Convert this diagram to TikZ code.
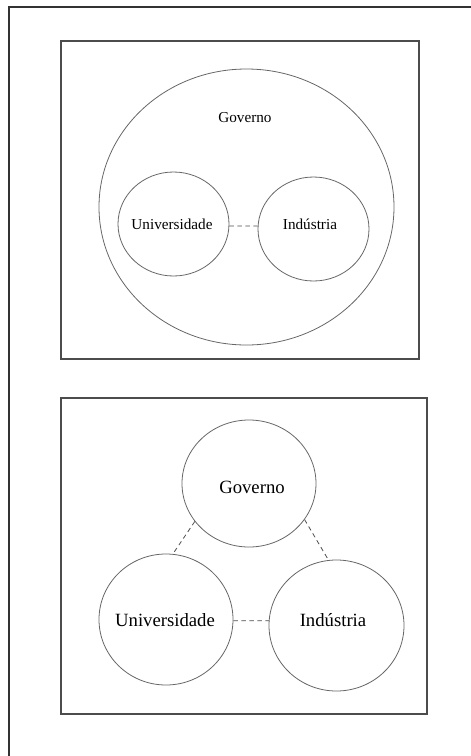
\documentclass[tikz,border=0pt]{standalone}
\usepackage{fontspec}
\setmainfont{Liberation Serif}
\usetikzlibrary{shapes.geometric}
\begin{document}
\begin{tikzpicture}[x=1pt,y=-1pt,
  frame/.style={draw=black!80,line width=1.6pt},
  panel/.style={draw=black!70,line width=1.2pt},
  circ/.style={ellipse,draw=black!60,line width=0.8pt,inner sep=0pt},
  smalltxt/.style={font=\fontsize{15.2}{18}\selectfont,inner sep=0pt},
  bigtxt/.style={font=\fontsize{18.7}{22}\selectfont,inner sep=0pt},
  link/.style={draw=black!70,line width=0.8pt,dash pattern=on 4.5pt off 3.5pt}]
\useasboundingbox (0,0) rectangle (471,756);
% outer frame (clipped by page)
\draw[frame] (9,770) -- (9,7) -- (480,7);
% upper panel
\draw[panel] (61,41) rectangle (419,359);
\node[circ,minimum width=295pt,minimum height=276pt] (gbig) at (246.5,207) {};
\node[smalltxt] (gtxt) at (245,118) {Governo};
\node[circ,minimum width=111pt,minimum height=104pt,
  label={[smalltxt,xshift=-1.5pt]center:Universidade}] (u1) at (173.5,224) {};
\node[circ,minimum width=111pt,minimum height=104pt,
  label={[smalltxt,xshift=-3.5pt,yshift=5pt]center:Indústria}] (i1) at (313.5,229) {};
\draw[link] (u1.-2) -- (i1.177);
% lower panel
\draw[panel] (61,398) rectangle (427,714);
\node[circ,minimum width=134pt,minimum height=127pt,
  label={[bigtxt,xshift=3pt,yshift=-3.5pt]center:Governo}] (g2) at (249,483.5) {};
\node[circ,minimum width=134pt,minimum height=131pt,
  label={[bigtxt,xshift=-1pt,yshift=-0.5pt]center:Universidade}] (u2) at (166,619.5) {};
\node[circ,minimum width=135pt,minimum height=131pt,
  label={[bigtxt,xshift=-3.5pt,yshift=5.5pt]center:Indústria}] (i2) at (336.5,625.5) {};
\draw[link] (g2.215) -- (u2.84);
\draw[link] (g2.-33) -- (i2.97);
\draw[link] (u2.-1) -- (i2.176);
\end{tikzpicture}
\end{document}
